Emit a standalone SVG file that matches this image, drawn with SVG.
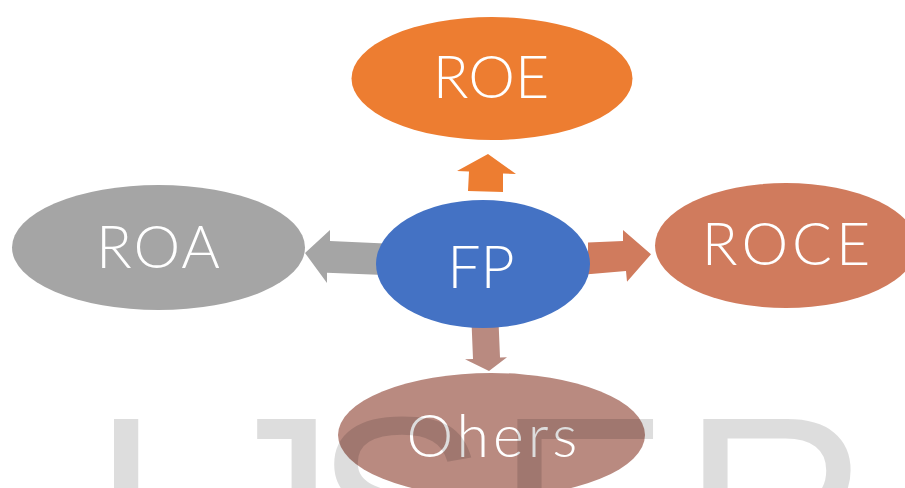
<svg xmlns="http://www.w3.org/2000/svg" width="905" height="488" viewBox="0 0 905 488">
<style>
.lbl{font-family:Lato,"Liberation Sans",sans-serif;font-weight:300;font-size:59px;fill:#fff;text-anchor:middle}
.wm{font-family:"Liberation Sans",Arial,sans-serif;font-size:260px;fill:#000;fill-opacity:0.135}
</style>
<rect width="905" height="488" fill="#fff"/>
<g id="connectors">
<polygon points="488,154 516,174 503,173.5 503,192 468,191 469,171.5 457,171" fill="#ED7D31"/>
<polygon points="305,253 330,230 330,241 385,243.5 384,275 327,272.7 327,283" fill="#A5A5A5"/>
<polygon points="588,242.4 623,241 623,230 651,254.3 627,281.7 626,271 588,274.2" fill="#D07B5D"/>
<polygon points="471.5,322 498.5,321 500,357.5 507,357.3 489,371 465,359.3 473,359" fill="#B98A80"/>
</g>
<g id="node-roe">
<ellipse cx="492" cy="78.5" rx="140.5" ry="61.5" fill="#ED7D31"/>
<text class="lbl" x="491" y="98">ROE</text>
</g>
<g id="node-roa">
<ellipse cx="158.5" cy="247.5" rx="146.5" ry="62.5" fill="#A5A5A5"/>
<text class="lbl" x="159" y="268" style="letter-spacing:2px">ROA</text>
</g>
<g id="node-roce">
<ellipse cx="786" cy="245.5" rx="131" ry="62.5" fill="#D07B5D"/>
<text class="lbl" x="788" y="265" style="letter-spacing:4px">ROCE</text>
</g>
<g id="node-fp">
<ellipse cx="483" cy="264" rx="107" ry="64" fill="#4472C4"/>
<text class="lbl" x="481" y="288">FP</text>
</g>
<g id="node-ohers">
<ellipse cx="491.5" cy="435" rx="153.5" ry="62" fill="#B98A80"/>
<text class="lbl" x="494" y="457" style="letter-spacing:4px">Ohers</text>
</g>
<text class="wm" x="90 205 314 496 682" y="598">IJSER</text>
</svg>
